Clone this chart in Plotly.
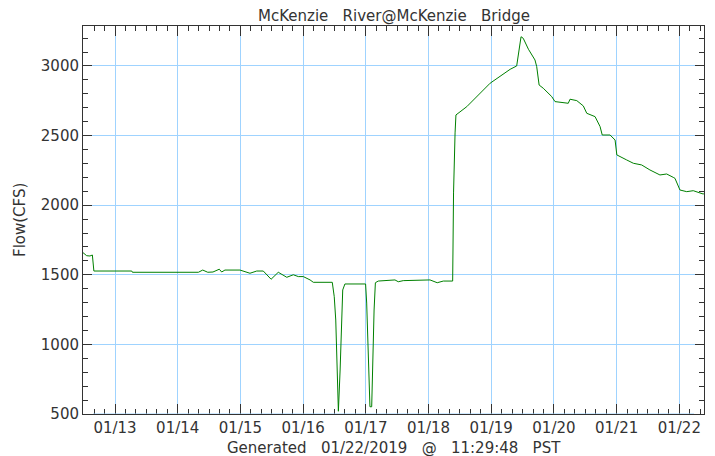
import plotly.graph_objects as go

times = [
    "2019-01-12 11:45", "2019-01-12 13:10", "2019-01-12 14:25", "2019-01-12 15:20", "2019-01-12 15:55",
    "2019-01-13 06:25", "2019-01-13 06:40", "2019-01-14 07:55", "2019-01-14 09:35", "2019-01-14 11:30",
    "2019-01-14 13:30", "2019-01-14 15:55", "2019-01-14 16:50", "2019-01-14 18:05", "2019-01-14 23:50",
    "2019-01-15 03:40", "2019-01-15 06:15", "2019-01-15 08:45", "2019-01-15 11:45", "2019-01-15 14:30",
    "2019-01-15 17:45", "2019-01-15 20:15", "2019-01-15 22:10", "2019-01-16 00:05", "2019-01-16 02:40",
    "2019-01-16 03:55", "2019-01-16 11:10", "2019-01-16 11:55", "2019-01-16 12:30", "2019-01-16 12:50",
    "2019-01-16 13:30", "2019-01-16 14:10", "2019-01-16 14:45", "2019-01-16 15:10", "2019-01-16 16:00",
    "2019-01-16 23:55", "2019-01-17 00:20", "2019-01-17 01:00", "2019-01-17 01:35", "2019-01-17 02:15",
    "2019-01-17 02:40", "2019-01-17 03:10", "2019-01-17 03:40", "2019-01-17 04:45", "2019-01-17 11:10",
    "2019-01-17 12:25", "2019-01-17 14:20", "2019-01-17 16:55", "2019-01-17 20:45", "2019-01-18 00:35",
    "2019-01-18 03:20", "2019-01-18 05:40", "2019-01-18 09:15", "2019-01-18 09:35", "2019-01-18 10:10",
    "2019-01-18 10:30", "2019-01-18 14:40", "2019-01-18 23:35", "2019-01-19 07:15", "2019-01-19 09:45",
    "2019-01-19 11:25", "2019-01-19 12:15", "2019-01-19 14:15", "2019-01-19 16:45", "2019-01-19 17:25",
    "2019-01-19 18:20", "2019-01-19 19:55", "2019-01-19 23:10", "2019-01-20 00:25", "2019-01-20 05:30",
    "2019-01-20 06:10", "2019-01-20 08:45", "2019-01-20 11:15", "2019-01-20 12:35", "2019-01-20 15:45",
    "2019-01-20 17:40", "2019-01-20 18:30", "2019-01-20 21:30", "2019-01-20 23:25", "2019-01-21 00:05",
    "2019-01-21 03:50", "2019-01-21 06:25", "2019-01-21 09:35", "2019-01-21 12:45", "2019-01-21 16:35",
    "2019-01-21 19:10", "2019-01-21 21:40", "2019-01-21 22:20", "2019-01-22 00:15", "2019-01-22 02:50",
    "2019-01-22 05:20", "2019-01-22 09:10", "2019-01-22 09:27",
]
flow = [
    1659, 1637, 1635, 1642, 1527,
    1527, 1518, 1518, 1534, 1518,
    1520, 1540, 1520, 1534, 1534,
    1511, 1527, 1527, 1468, 1518,
    1482, 1500, 1487, 1487, 1463,
    1446, 1446, 1343, 1175, 996,
    520, 816, 1175, 1391, 1434,
    1434, 1297, 888, 552, 552,
    888, 1247, 1443, 1455, 1463,
    1450, 1458, 1458, 1463, 1463,
    1443, 1455, 1455, 2088, 2519,
    2648, 2708, 2876, 2976, 3000,
    3210, 3199, 3120, 3043, 2995,
    2863, 2840, 2780, 2744, 2732,
    2761, 2751, 2713, 2660, 2636,
    2565, 2504, 2504, 2468, 2361,
    2325, 2301, 2289, 2253, 2217,
    2224, 2200, 2193, 2109, 2097,
    2104, 2080, 2085,
]

title_text = "McKenzie\u00a0\u00a0\u00a0River@McKenzie\u00a0\u00a0\u00a0Bridge"
footer_text = "Generated\u00a0\u00a0\u00a001/22/2019\u00a0\u00a0\u00a0@\u00a0\u00a0\u00a011:29:48\u00a0\u00a0\u00a0PST"
y_title = "Flow(CFS)"
x_range = ["2019-01-12 11:45", "2019-01-22 09:27"]
y_range = [500, 3287]

FONT = "DejaVu Sans"
TXT = "#333333"
GRID = "#9fd3ff"
AX = "#333333"

fig = go.Figure()
fig.add_trace(go.Scatter(x=times, y=flow, mode="lines",
                         line=dict(color="#008000", width=1), hoverinfo="skip"))
# invisible copy to bring up the mirrored (top/right) tick axes
fig.add_trace(go.Scatter(x=times, y=flow, mode="lines", xaxis="x2", yaxis="y2",
                         line=dict(color="rgba(0,0,0,0)", width=0), hoverinfo="skip"))

fig.update_layout(
    width=715, height=456,
    margin=dict(l=83, r=11, t=26, b=42, autoexpand=False),
    plot_bgcolor="white", paper_bgcolor="white",
    showlegend=False,
    font=dict(family=FONT, size=15, color=TXT),
)
common_x = dict(type="date", range=x_range, tick0="2019-01-13", dtick=86400000,
                ticks="inside", ticklen=10, tickcolor=AX, tickwidth=1,
                minor=dict(dtick=4 * 3600000, ticks="inside", ticklen=5, tickcolor=AX, showgrid=False),
                zeroline=False, automargin=False)
common_y = dict(range=y_range, tick0=500, dtick=500,
                ticks="inside", ticklen=9, tickcolor=AX, tickwidth=1,
                minor=dict(dtick=100, ticks="inside", ticklen=5, tickcolor=AX, showgrid=False),
                zeroline=False, automargin=False)
fig.update_layout(
    xaxis=dict(**common_x, tickformat="%m/%d",
               showline=True, linecolor=AX, linewidth=1,
               showgrid=True, gridcolor=GRID, gridwidth=1,
               tickfont=dict(family=FONT, size=15, color=TXT)),
    yaxis=dict(**common_y,
               showline=True, linecolor=AX, linewidth=1,
               showgrid=True, gridcolor=GRID, gridwidth=1,
               tickfont=dict(family=FONT, size=15, color=TXT)),
    xaxis2=dict(**common_x, overlaying="x", side="top", anchor="y",
                showline=True, linecolor=AX, linewidth=1,
                showgrid=False, showticklabels=False),
    yaxis2=dict(**common_y, overlaying="y", side="right", anchor="x",
                showline=True, linecolor=AX, linewidth=1,
                showgrid=False, showticklabels=False),
)
# the 500 grid line is drawn over the bottom frame in the reference
fig.add_shape(type="line", xref="paper", yref="y", x0=10 / 621, x1=1 - 10 / 621,
              y0=y_range[0], y1=y_range[0], line=dict(color=GRID, width=1), layer="above")

fig.add_annotation(text=title_text, xref="paper", yref="paper", x=0.5, y=1 + 10 / 388,
                   xanchor="center", yanchor="middle", showarrow=False,
                   font=dict(family=FONT, size=15, color=TXT))
fig.add_annotation(text=footer_text, xref="paper", yref="paper", x=0.5, y=-34 / 388,
                   xanchor="center", yanchor="middle", showarrow=False,
                   font=dict(family=FONT, size=15, color=TXT))
fig.add_annotation(text=y_title, xref="paper", yref="paper", x=-63 / 621, y=0.5,
                   xanchor="center", yanchor="middle", showarrow=False, textangle=-90,
                   font=dict(family=FONT, size=15, color=TXT))

fig.write_html("out.html", config={"displayModeBar": False},
               post_script="document.body.style.margin='0';")
